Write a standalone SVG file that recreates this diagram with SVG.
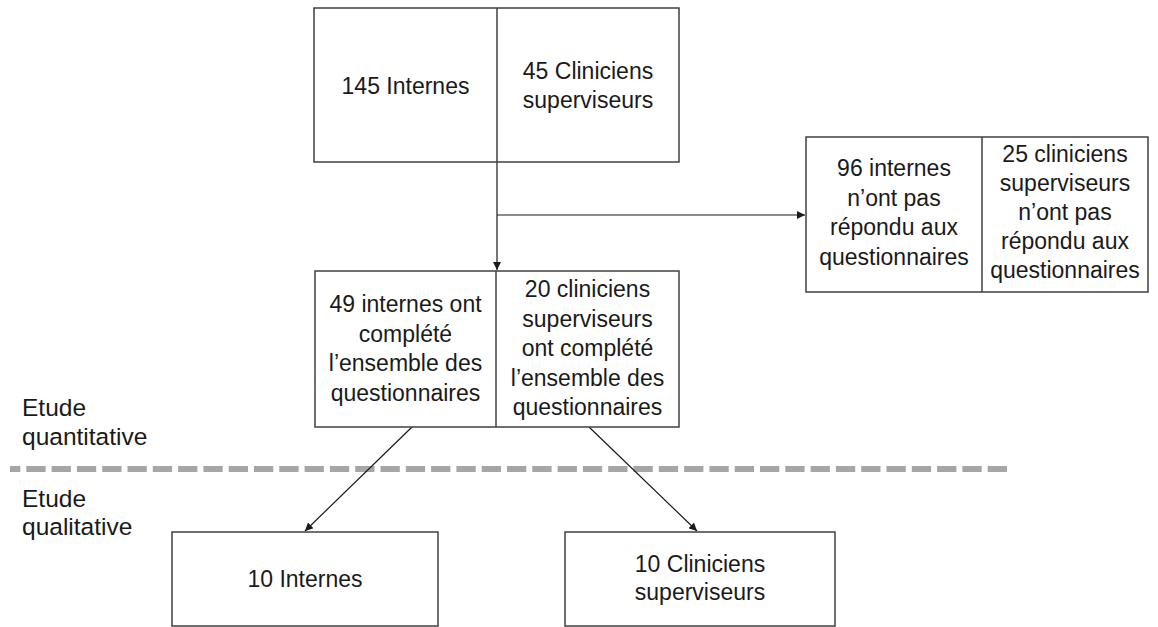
<svg xmlns="http://www.w3.org/2000/svg" width="1158" height="627" viewBox="0 0 1158 627">
<style>
.box{fill:#fff;stroke:#404040;stroke-width:1.5}
.div{stroke:#404040;stroke-width:1.5}
.t{font-family:"Liberation Sans",Arial,sans-serif;font-size:23px;fill:#1a1a1a;text-anchor:middle}
.lbl{font-family:"Liberation Sans",Arial,sans-serif;font-size:24.5px;fill:#1a1a1a}
.conn{stroke:#1a1a1a;stroke-width:1.2;fill:none}
</style>
<defs>
<marker id="arr" viewBox="0 0 10 10" refX="10" refY="5" markerWidth="8" markerHeight="8" markerUnits="userSpaceOnUse" orient="auto">
<path d="M0,0 L10,5 L0,10 z" fill="#1a1a1a"/>
</marker>
</defs>
<rect width="1158" height="627" fill="#fff"/>

<g id="labels">
<text class="lbl" x="22" y="416">Etude</text>
<text class="lbl" x="22" y="445">quantitative</text>
<text class="lbl" x="22" y="507">Etude</text>
<text class="lbl" x="22" y="535">qualitative</text>
</g>

<line x1="1007" y1="469" x2="10" y2="469" stroke="#a6a6a6" stroke-width="6" stroke-dasharray="19.3 6"/>

<g id="connectors">
<line class="conn" x1="497" y1="162" x2="497" y2="270" marker-end="url(#arr)"/>
<line class="conn" x1="497" y1="215" x2="805" y2="215" marker-end="url(#arr)"/>
<line class="conn" x1="412" y1="427" x2="305" y2="531" marker-end="url(#arr)"/>
<line class="conn" x1="589" y1="427" x2="697" y2="531" marker-end="url(#arr)"/>
</g>

<g id="node-top">
<rect class="box" x="314" y="8" width="365" height="154"/>
<line class="div" x1="497" y1="8" x2="497" y2="162"/>
<text class="t" x="405.5" y="94">145 Internes</text>
<text class="t" x="588" y="79">45 Cliniciens</text>
<text class="t" x="588" y="108">superviseurs</text>
</g>

<g id="node-nonresp">
<rect class="box" x="806" y="137" width="342" height="155"/>
<line class="div" x1="982" y1="137" x2="982" y2="292"/>
<text class="t" x="894" y="176">96 internes</text>
<text class="t" x="894" y="205.5">n’ont pas</text>
<text class="t" x="894" y="235">répondu aux</text>
<text class="t" x="894" y="264.5">questionnaires</text>
<text class="t" x="1065" y="162">25 cliniciens</text>
<text class="t" x="1065" y="191">superviseurs</text>
<text class="t" x="1065" y="220">n’ont pas</text>
<text class="t" x="1065" y="249">répondu aux</text>
<text class="t" x="1065" y="278">questionnaires</text>
</g>

<g id="node-complete">
<rect class="box" x="315" y="271" width="364" height="156"/>
<line class="div" x1="496" y1="271" x2="496" y2="427"/>
<text class="t" x="405.5" y="312">49 internes ont</text>
<text class="t" x="405.5" y="341.5">complété</text>
<text class="t" x="405.5" y="371">l’ensemble des</text>
<text class="t" x="405.5" y="400.5">questionnaires</text>
<text class="t" x="587.5" y="297">20 cliniciens</text>
<text class="t" x="587.5" y="326.5">superviseurs</text>
<text class="t" x="587.5" y="356">ont complété</text>
<text class="t" x="587.5" y="385.5">l’ensemble des</text>
<text class="t" x="587.5" y="415">questionnaires</text>
</g>

<g id="node-internes10">
<rect class="box" x="172" y="532" width="266" height="94"/>
<text class="t" x="305" y="587">10 Internes</text>
</g>

<g id="node-cliniciens10">
<rect class="box" x="565" y="532" width="270" height="94"/>
<text class="t" x="700" y="572">10 Cliniciens</text>
<text class="t" x="700" y="600">superviseurs</text>
</g>
</svg>
